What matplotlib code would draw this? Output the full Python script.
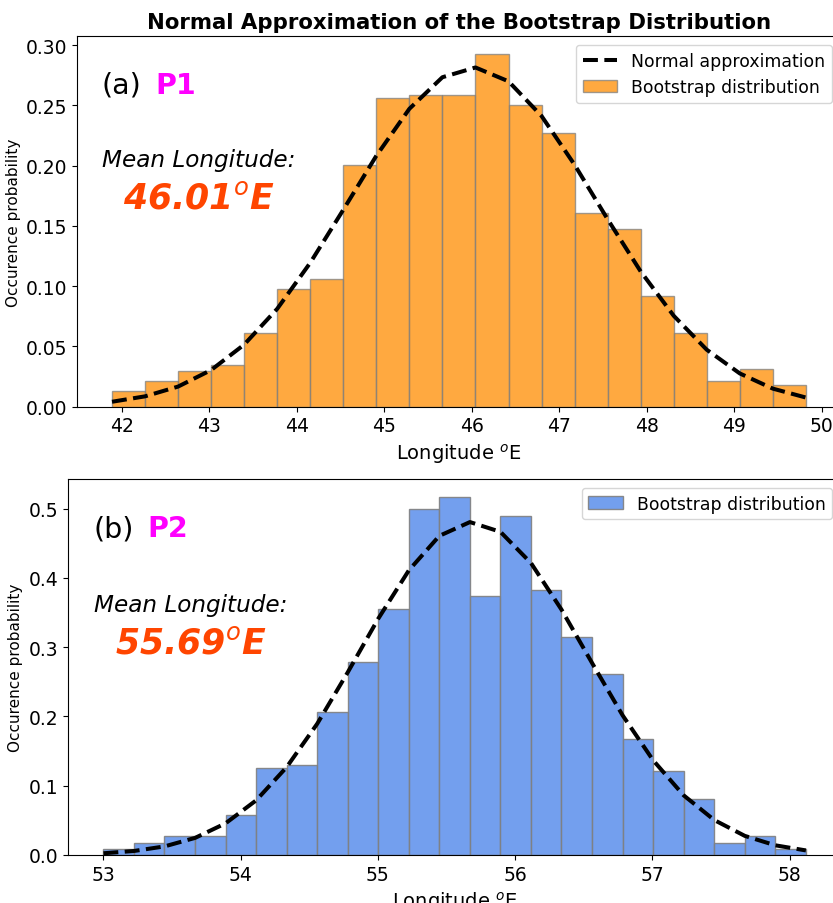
import numpy as np
import matplotlib
matplotlib.use("Agg")
import matplotlib.pyplot as plt

# ---------------- data ----------------
p1_edges = [41.887, 42.265, 42.643, 43.020, 43.398, 43.776, 44.154, 44.532,
            44.909, 45.287, 45.665, 46.043, 46.421, 46.798, 47.176, 47.554,
            47.932, 48.310, 48.687, 49.065, 49.443, 49.821]
p1_heights = [0.0133, 0.0213, 0.0294, 0.0343, 0.0609, 0.0976, 0.1057, 0.2005,
              0.2558, 0.2583, 0.2583, 0.2926, 0.2503, 0.2268, 0.1609, 0.1476,
              0.0921, 0.0609, 0.0213, 0.0315, 0.0182]
p1_normal = [0.0041, 0.0086, 0.0167, 0.0304, 0.0515, 0.0812, 0.1194, 0.1634,
             0.2081, 0.2471, 0.2733, 0.2814, 0.2699, 0.2412, 0.2007, 0.1555,
             0.1122, 0.0754, 0.0473, 0.0276, 0.0150, 0.0076]

p2_edges = [53.000, 53.223, 53.445, 53.668, 53.890, 54.113, 54.335, 54.558,
            54.780, 55.003, 55.226, 55.448, 55.671, 55.893, 56.116, 56.338,
            56.561, 56.783, 57.006, 57.228, 57.451, 57.674, 57.896, 58.119]
p2_heights = [0.0087, 0.018, 0.027, 0.027, 0.058, 0.126, 0.130, 0.207,
              0.279, 0.355, 0.500, 0.517, 0.374, 0.490, 0.383, 0.315,
              0.261, 0.167, 0.122, 0.081, 0.018, 0.027, 0.009]
p2_normal = [0.0025, 0.0058, 0.0124, 0.0247, 0.0457, 0.0789, 0.1268, 0.1895,
             0.2636, 0.3413, 0.4111, 0.4608, 0.4807, 0.4666, 0.4215, 0.3543,
             0.2772, 0.2018, 0.1367, 0.0862, 0.0505, 0.0276, 0.0140, 0.0066]

panel_labels = ["(a)", "(b)"]
point_names = ["P1", "P2"]
mean_texts = ["46.01$^o$E", "55.69$^o$E"]

title = "Normal Approximation of the Bootstrap Distribution"
xlabel = "Longitude $^o$E"
ylabel = "Occurence probability"

# ---------------- figure ----------------
fig = plt.figure(figsize=(8.33, 9.04), dpi=100)
ax1 = fig.add_axes([0.0928, 0.549, 0.9163, 0.4097])
ax2 = fig.add_axes([0.082, 0.0531, 0.9276, 0.4159])

TICK = 13.5


def draw(ax, edges, heights, normal, color, alpha, with_line_label):
    edges = np.asarray(edges)
    bars = ax.bar(edges[:-1], heights, width=np.diff(edges), align="edge",
                  color=color, alpha=alpha, edgecolor="grey", linewidth=1.0,
                  label="Bootstrap distribution")
    line, = ax.plot(edges, normal, "k--", linewidth=2.9,
                    label="Normal approximation")
    ax.tick_params(labelsize=TICK)
    ax.set_xlabel(xlabel, fontsize=14)
    ax.set_ylabel(ylabel, fontsize=11)
    if with_line_label:
        ax.legend(handles=[line, bars], loc="upper right", fontsize=12.4)
    else:
        ax.legend(handles=[bars], loc="upper right", fontsize=12.4)
    return ax


draw(ax1, p1_edges, p1_heights, p1_normal, "darkorange", 0.75, True)
draw(ax2, p2_edges, p2_heights, p2_normal, "cornflowerblue", 0.9, False)

ax1.set_title(title, fontsize=15.3, fontweight="bold")

for ax, lab, name, mt, mx in [(ax1, panel_labels[0], point_names[0], mean_texts[0], 0.1594),
                              (ax2, panel_labels[1], point_names[1], mean_texts[1], 0.158)]:
    ax.text(0.032, 0.848, lab, transform=ax.transAxes, fontsize=20.5,
            ha="left", va="baseline")
    ax.text(0.102, 0.848, name, transform=ax.transAxes, fontsize=20.5,
            fontweight="bold", color="magenta", ha="left", va="baseline")
    ax.text(mx, 0.650, "Mean Longitude:", transform=ax.transAxes,
            fontsize=16.7, style="italic", ha="center", va="baseline")
    ax.text(mx, 0.538, mt, transform=ax.transAxes, fontsize=25,
            fontweight="bold", style="italic", color="orangered",
            ha="center", va="baseline")

fig.savefig("out.png", dpi=100, facecolor="white")
